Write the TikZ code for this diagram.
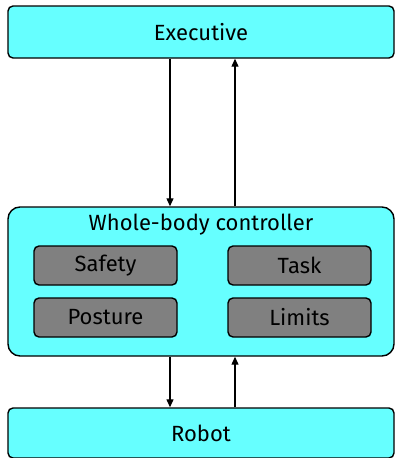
\documentclass[tikz,border=0pt]{standalone}
\usepackage{fontspec}
\setmainfont{Fira Sans}
\usetikzlibrary{arrows.meta}
\definecolor{boxcyan}{HTML}{66FFFF}
\definecolor{boxgray}{HTML}{808080}
\begin{document}
\begin{tikzpicture}[x=1pt,y=-1pt,
  bigbox/.style={draw=black,line width=1.4pt,fill=boxcyan,rounded corners=5pt,inner sep=0pt},
  smallbox/.style={draw=black,line width=1.4pt,fill=boxgray,rounded corners=5pt,minimum width=143pt,minimum height=39pt,inner sep=0pt,font=\fontsize{22}{26}\selectfont},
  lbl/.style={font=\fontsize{22}{26}\selectfont,inner sep=0pt},
  arr/.style={line width=1.2pt,-{Triangle[length=8pt,width=7pt]}}]
\useasboundingbox (0,0) rectangle (395,458);
\node[bigbox,minimum width=386pt,minimum height=52pt] (exec) at (201,32) {};
\node[lbl] (exect) at (201,32) {Executive};
\node[bigbox,rounded corners=12pt,minimum width=386pt,minimum height=149pt] (wbc) at (201,281.5) {};
\node[lbl] (wbct) at (201,225) {Whole-body controller};
\node[smallbox] (safety) at (105.5,265.5) {Safety};
\node[smallbox] (task) at (299.5,265.5) {Task};
\node[smallbox] (posture) at (105.5,317.5) {Posture};
\node[smallbox] (limits) at (299.5,317.5) {Limits};
\node[bigbox,minimum width=386pt,minimum height=50pt] (robot) at (201,433) {};
\node[lbl] (robott) at (201,433) {Robot};
\coordinate (xl) at (170,0);
\coordinate (xr) at (235,0);
\draw[arr] (exec.south -| xl) -- (wbc.north -| xl);
\draw[arr] (wbc.north -| xr) -- (exec.south -| xr);
\draw[arr] (wbc.south -| xl) -- (robot.north -| xl);
\draw[arr] (robot.north -| xr) -- (wbc.south -| xr);
\end{tikzpicture}
\end{document}
